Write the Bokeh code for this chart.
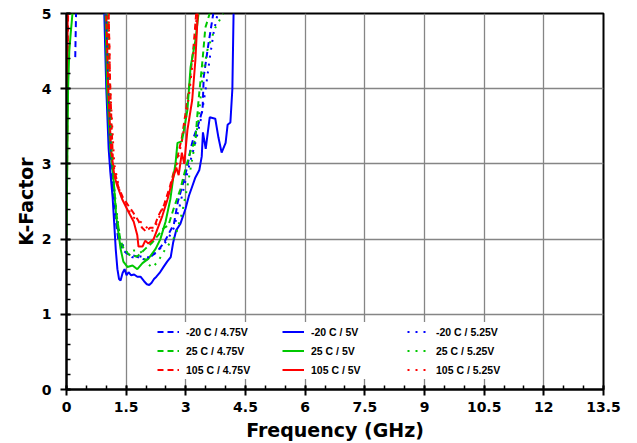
from bokeh.plotting import figure
from bokeh.models import Legend, LegendItem, FixedTicker, Range1d
from bokeh.embed import file_html
from bokeh.resources import INLINE

# ---------------- data ----------------
x_ticks = [0, 1.5, 3, 4.5, 6, 7.5, 9, 10.5, 12, 13.5]
x_tick_labels = ["0", "1.5", "3", "4.5", "6", "7.5", "9", "10.5", "12", "13.5"]
y_ticks = [0, 1, 2, 3, 4, 5]
y_tick_labels = ["0", "1", "2", "3", "4", "5"]

legend_labels = ["-20 C / 4.75V", "25 C / 4.75V", "105 C / 4.75V",
                 "-20 C / 5V", "25 C / 5V", "105 C / 5V",
                 "-20 C / 5.25V", "25 C / 5.25V", "105 C / 5.25V"]

# -20 C / 4.75V
m20_475_x = [1.0, 1.05, 1.12, 1.2, 1.3, 1.42, 1.55, 1.7, 1.85, 2.0, 2.15, 2.3, 2.45, 2.55, 2.7, 2.8,
             2.91, 3.04, 3.12, 3.2, 3.3, 3.42, 3.45, 3.57, 3.69]
m20_475_y = [5.0, 4.0, 3.0, 2.4, 2.0, 1.85, 1.8, 1.78, 1.75, 1.72, 1.78, 1.85, 1.95, 2.05, 2.2, 2.5,
             2.7, 2.97, 3.2, 3.36, 3.5, 3.72, 4.16, 4.6, 5.0]
m20_475_low_x = [0.22, 0.24]
m20_475_low_y = [4.42, 5.0]

# 25 C / 4.75V
p25_475_x = [1.03, 1.08, 1.15, 1.25, 1.35, 1.45, 1.61, 1.78, 1.98, 2.15, 2.3, 2.45, 2.56, 2.69, 2.86,
             2.99, 3.12, 3.24, 3.32, 3.42, 3.49, 3.6]
p25_475_y = [5.0, 4.0, 3.0, 2.35, 2.0, 1.85, 1.78, 1.77, 1.87, 1.95, 2.05, 2.15, 2.18, 2.4, 2.66,
             2.93, 3.17, 3.32, 3.85, 4.38, 4.81, 5.0]

# 105 C / 4.75V
p105_475_x = [1.06, 1.1, 1.17, 1.3, 1.42, 1.55, 1.68, 1.8, 1.9, 2.0, 2.1, 2.2, 2.3, 2.45, 2.6, 2.75,
              2.9, 3.0, 3.1, 3.2, 3.26]
p105_475_y = [5.0, 4.0, 3.0, 2.7, 2.55, 2.45, 2.35, 2.25, 2.15, 2.1, 2.15, 2.15, 2.3, 2.45, 2.7, 3.0,
              3.35, 3.7, 4.1, 4.6, 5.0]
p105_475_low_x = [0.01, 0.03, 0.04]
p105_475_low_y = [2.5, 4.4, 5.0]

# -20 C / 5V
m20_5_x = [0.95, 1.0, 1.06, 1.1, 1.16, 1.2, 1.24, 1.28, 1.32, 1.36, 1.41, 1.46, 1.51, 1.56, 1.62, 1.7,
           1.78, 1.86, 1.95, 2.02, 2.08, 2.14, 2.2, 2.26, 2.34, 2.44, 2.53, 2.62, 2.68, 2.76, 2.86,
           2.99, 3.08, 3.16, 3.24, 3.34, 3.4, 3.43, 3.5, 3.6, 3.74, 3.82, 3.9, 4.0, 4.05, 4.12,
           4.17, 4.2]
m20_5_y = [5.0, 4.0, 3.2, 2.9, 2.55, 2.2, 1.85, 1.6, 1.47, 1.45, 1.55, 1.6, 1.52, 1.56, 1.52, 1.53,
           1.5, 1.5, 1.44, 1.4, 1.39, 1.42, 1.47, 1.5, 1.55, 1.63, 1.7, 1.76, 1.95, 2.12, 2.2,
           2.4, 2.58, 2.7, 2.82, 2.92, 3.1, 3.42, 3.2, 3.62, 3.6, 3.35, 3.15, 3.28, 3.52, 3.55,
           4.0, 5.0]
m20_5_low_x = [0.01, 0.02]
m20_5_low_y = [3.5, 4.6]

# 25 C / 5V
p25_5_x = [0.98, 1.02, 1.1, 1.18, 1.25, 1.36, 1.43, 1.53, 1.66, 1.78, 1.91, 2.06, 2.24, 2.36, 2.49,
           2.61, 2.69, 2.74, 2.79, 2.9, 2.97, 3.04, 3.12, 3.24, 3.32]
p25_5_y = [5.0, 4.0, 3.2, 2.8, 2.3, 1.87, 1.7, 1.63, 1.65, 1.6, 1.68, 1.74, 1.87, 2.0, 2.23,
           2.53, 2.84, 3.0, 3.28, 3.3, 3.5, 3.72, 4.29, 4.64, 5.0]
p25_5_low_x = [0.0, 0.02, 0.04, 0.07, 0.1, 0.15]
p25_5_low_y = [2.05, 3.0, 4.0, 4.5, 4.7, 5.0]

# 105 C / 5V
p105_5_x = [1.0, 1.05, 1.12, 1.2, 1.28, 1.4, 1.56, 1.69, 1.78, 1.81, 1.91, 1.98, 2.06, 2.19, 2.29,
            2.41, 2.54, 2.66, 2.76, 2.82, 2.9, 2.96, 3.04, 3.16, 3.24, 3.3]
p105_5_y = [5.0, 4.0, 3.2, 2.85, 2.7, 2.53, 2.36, 2.23, 2.05, 1.9, 1.9, 1.98, 1.94, 2.0, 2.14,
            2.31, 2.53, 2.78, 2.95, 2.85, 3.15, 3.0, 3.45, 3.85, 4.38, 5.0]
p105_5_low_x = [0.01, 0.03]
p105_5_low_y = [3.0, 5.0]

# -20 C / 5.25V
m20_525_x = [1.0, 1.06, 1.13, 1.22, 1.35, 1.5, 1.65, 1.8, 1.95, 2.1, 2.25, 2.4, 2.55, 2.7, 2.85,
             3.0, 3.12, 3.25, 3.38, 3.5, 3.6, 3.7, 3.8]
m20_525_y = [5.0, 4.0, 3.0, 2.4, 2.0, 1.82, 1.76, 1.76, 1.78, 1.75, 1.82, 1.9, 2.0, 2.15, 2.45,
             2.8, 3.05, 3.3, 3.6, 4.0, 4.4, 4.75, 5.0]

# 25 C / 5.25V
p25_525_x = [1.03, 1.08, 1.15, 1.25, 1.35, 1.45, 1.55, 1.7, 1.85, 2.0, 2.15, 2.3, 2.44, 2.6, 2.74,
             2.91, 3.04, 3.19, 3.32, 3.42, 3.54, 3.74, 3.94]
p25_525_y = [5.0, 4.0, 3.0, 2.4, 2.0, 1.85, 1.82, 1.85, 1.85, 1.7, 1.62, 1.7, 1.83, 1.95, 2.04,
             2.36, 2.7, 3.15, 3.59, 4.16, 4.51, 4.81, 5.0]

# 105 C / 5.25V
p105_525_x = [1.06, 1.1, 1.2, 1.35, 1.5, 1.65, 1.8, 1.95, 2.1, 2.2, 2.3, 2.45, 2.6, 2.75, 2.9, 3.0,
              3.1, 3.2, 3.28]
p105_525_y = [5.0, 4.0, 3.0, 2.6, 2.45, 2.3, 2.25, 2.2, 2.1, 2.12, 2.25, 2.45, 2.65, 2.95, 3.3, 3.6,
              4.0, 4.5, 5.0]

# ---------------- figure ----------------
FONT = "DejaVu Sans"
BLUE, GREEN, RED = "#0000FF", "#00C800", "#FF0000"
DASH, SOLID, DOT = "6 4", "solid", "2 6"

p = figure(width=637, height=443, output_backend="svg", toolbar_location=None,
           x_range=Range1d(0, 13.5), y_range=Range1d(0, 5),
           min_border_left=66, min_border_right=34, min_border_top=13, min_border_bottom=51)
p.outline_line_color = "black"
p.outline_line_width = 2
p.background_fill_color = "white"
p.border_fill_color = "white"

for ax in (p.xaxis[0], p.yaxis[0]):
    ax.axis_line_color = "black"
    ax.axis_line_width = 2
    ax.major_tick_line_color = "black"
    ax.major_tick_line_width = 2
    ax.minor_tick_line_color = "black"
    ax.minor_tick_line_width = 1.5
    ax.major_tick_in = 4
    ax.major_tick_out = 6
    ax.minor_tick_in = 4
    ax.minor_tick_out = 0
    ax.major_label_text_font = FONT
    ax.major_label_text_font_style = "bold"
    ax.major_label_text_font_size = "14px"
    ax.major_label_text_color = "black"
    ax.axis_label_text_font = FONT
    ax.axis_label_text_font_style = "bold"
    ax.axis_label_text_color = "black"

p.xaxis[0].ticker = FixedTicker(ticks=x_ticks, minor_ticks=[i * 0.5 for i in range(28)])
p.yaxis[0].ticker = FixedTicker(ticks=y_ticks, minor_ticks=[i * 0.2 for i in range(26)])
p.xaxis[0].major_label_overrides = {t: l for t, l in zip(x_ticks, x_tick_labels)}
p.yaxis[0].major_label_overrides = {t: l for t, l in zip(y_ticks, y_tick_labels)}
p.xaxis[0].axis_label = "Frequency (GHz)"
p.yaxis[0].axis_label = "K-Factor"
p.xaxis[0].axis_label_text_font_size = "19px"
p.yaxis[0].axis_label_text_font_size = "19px"
p.xaxis[0].major_label_standoff = 6
p.yaxis[0].major_label_standoff = 9
p.xaxis[0].axis_label_standoff = 4
p.yaxis[0].axis_label_standoff = 2

p.xgrid.grid_line_color = "#858585"
p.ygrid.grid_line_color = "#858585"
p.xgrid.grid_line_width = 1.3
p.ygrid.grid_line_width = 1.3

series = [
    (m20_475_x, m20_475_y, BLUE, DASH),
    (p25_475_x, p25_475_y, GREEN, DASH),
    (p105_475_x, p105_475_y, RED, DASH),
    (m20_5_x, m20_5_y, BLUE, SOLID),
    (p25_5_x, p25_5_y, GREEN, SOLID),
    (p105_5_x, p105_5_y, RED, SOLID),
    (m20_525_x, m20_525_y, BLUE, DOT),
    (p25_525_x, p25_525_y, GREEN, DOT),
    (p105_525_x, p105_525_y, RED, DOT),
]
extra = [
    (m20_475_low_x, m20_475_low_y, BLUE, DASH),
    (m20_5_low_x, m20_5_low_y, BLUE, SOLID),
    (p105_475_low_x, p105_475_low_y, RED, DASH),
    (p105_5_low_x, p105_5_low_y, RED, SOLID),
    (p25_5_low_x, p25_5_low_y, GREEN, SOLID),
]
for xs, ys, c, d in extra:
    p.line(xs, ys, line_color=c, line_dash=d, line_width=2)

renderers = []
for xs, ys, c, d in series:
    r = p.line(xs, ys, line_color=c, line_dash=d, line_width=2)
    renderers.append(r)

items = [LegendItem(label=lab, renderers=[r]) for lab, r in zip(legend_labels, renderers)]
legend = Legend(items=items, orientation="vertical", ncols=3, nrows=3,
                location=(91, 10), padding=5, margin=0, spacing=0,
                glyph_width=22, glyph_height=19, label_height=19, label_width=96,
                label_standoff=7, label_text_font="Liberation Sans", label_text_font_style="bold",
                label_text_font_size="10.5px", label_text_color="black",
                border_line_color=None, background_fill_color="white", background_fill_alpha=1.0)
p.add_layout(legend, "center")

open("out.html", "w").write(file_html(p, INLINE))
